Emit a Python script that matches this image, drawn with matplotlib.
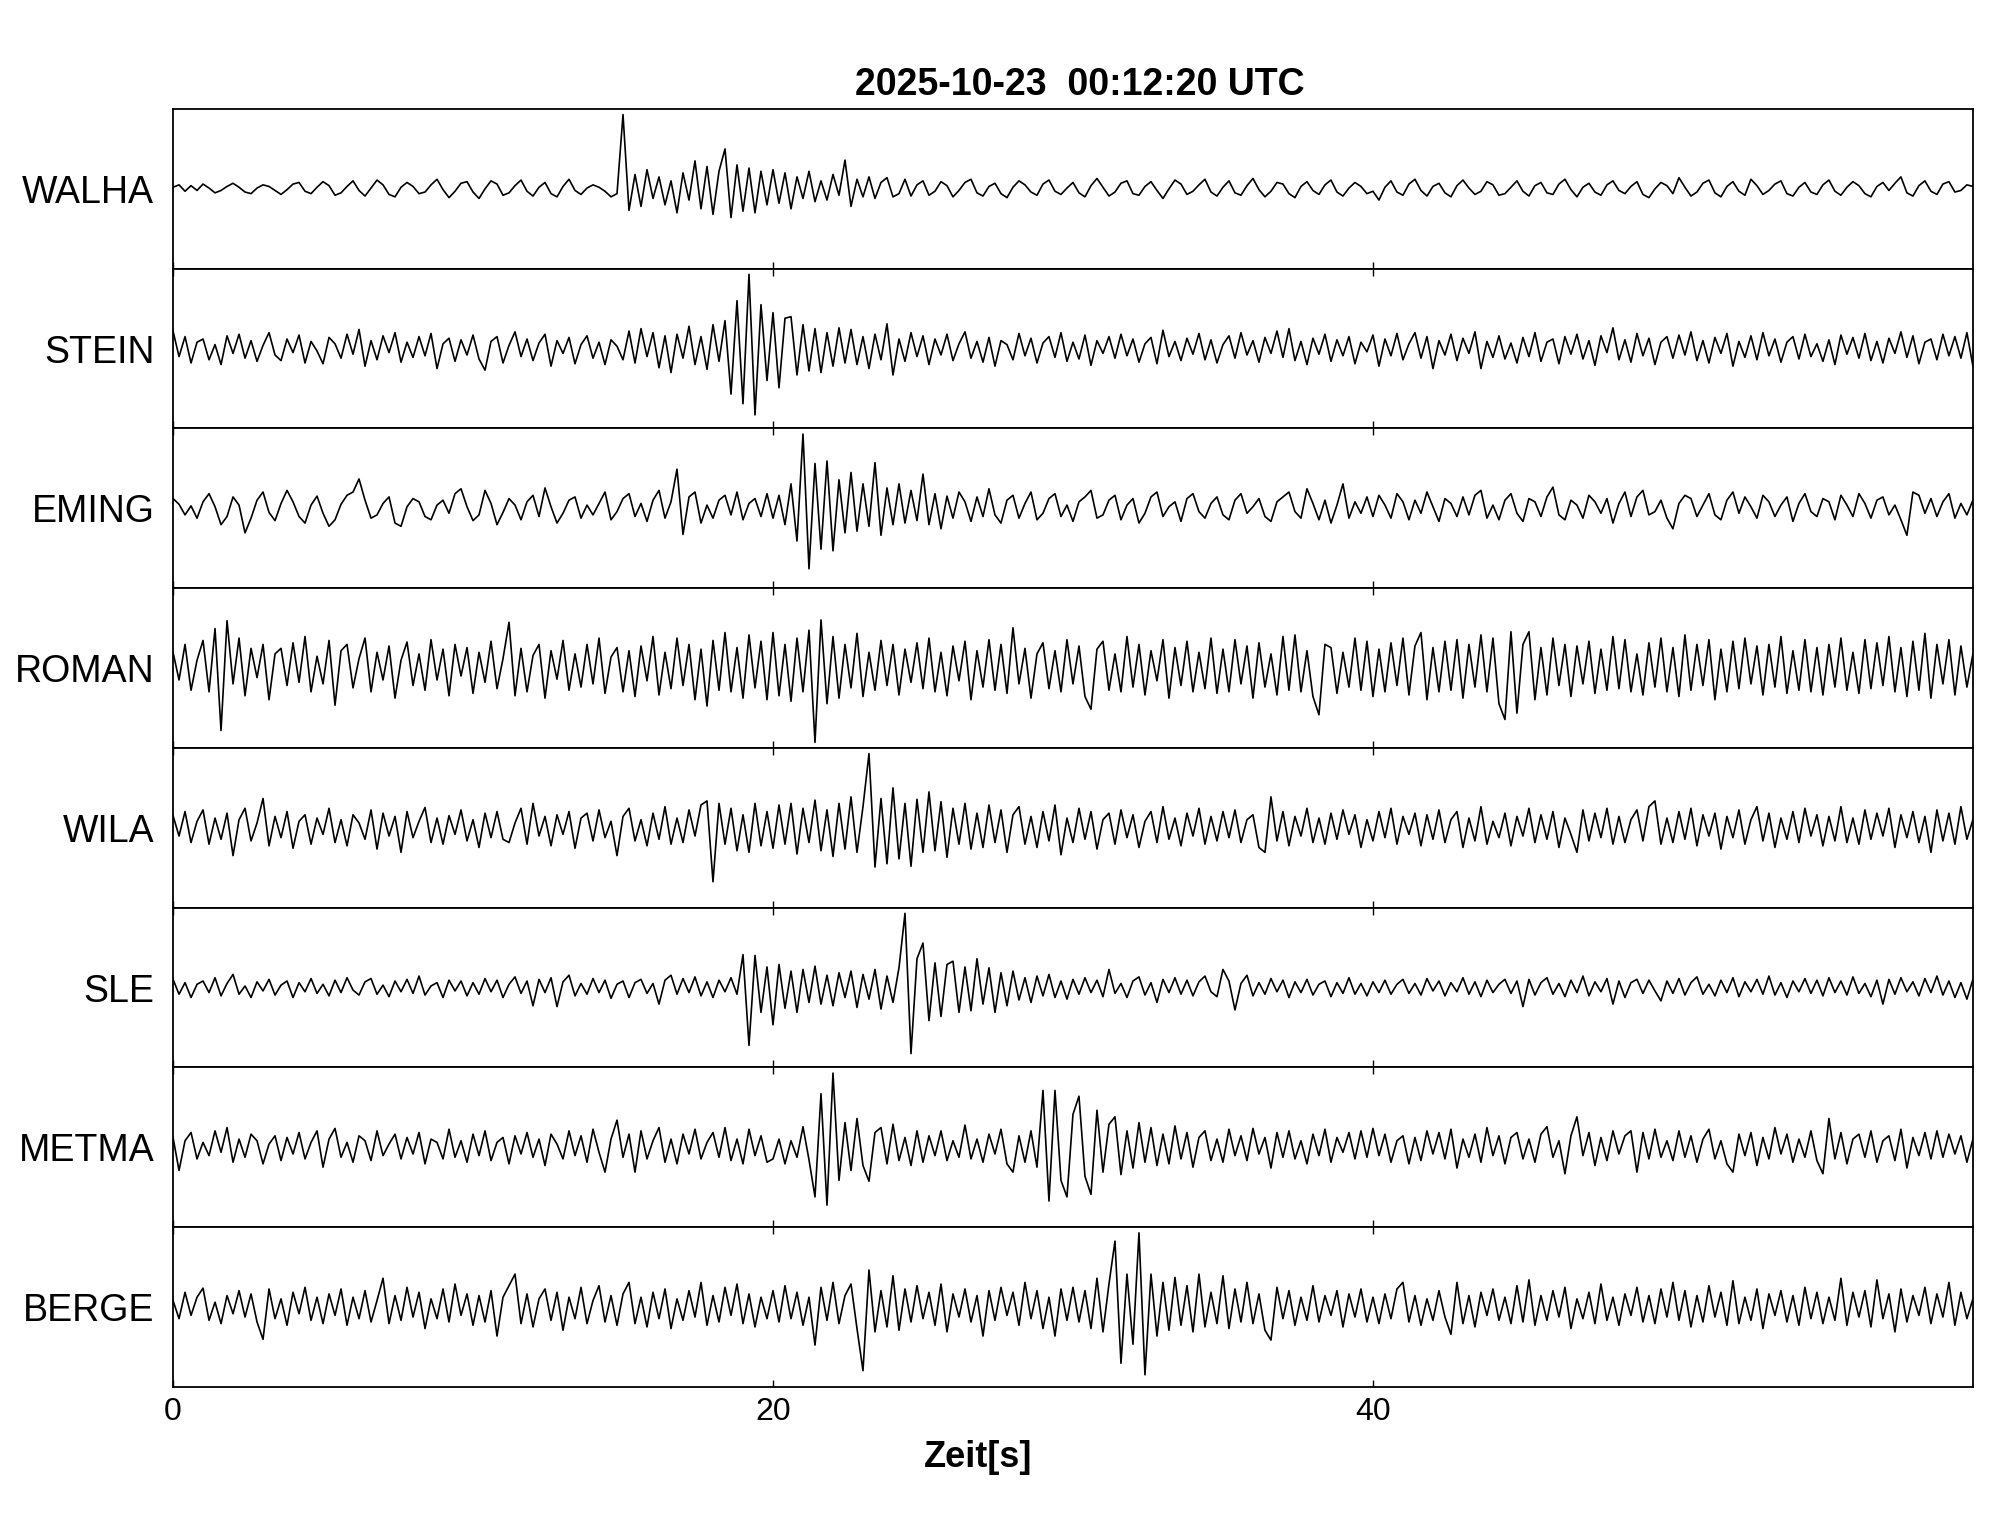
import numpy as np
import matplotlib
matplotlib.use('Agg')
import matplotlib.pyplot as plt

plt.rcParams['font.family'] = ['Liberation Sans', 'DejaVu Sans']

title = '2025-10-23  00:12:20 UTC'
stations = ['WALHA', 'STEIN', 'EMING', 'ROMAN', 'WILA', 'SLE', 'METMA', 'BERGE']
DT = 0.2  # s, sample step of the traces
xticks = [0, 20, 40]

# amplitudes (counts), one sample every 0.2 s, rows of 5 s
walha = [2, 5, -3, 4, -2, 6, 1, -5, -2, 3, 7, 2, -4, -6, 1, 5, 3, -2, -7, -1, 6, 8, -3, -6, 2,
         9, 4, -8, -5, 3, 10, -2, -9, 1, 11, 5, -7, -10, 2, 8, 3, -6, -4, 5, 12, -1, -11, -3, 7, 9,
         -4, -12, 0, 10, 6, -8, -5, 4, 11, -3, -9, 2, 8, -6, -10, 3, 12, -2, -7, 1, 5, 2, -3, -10, -6,
         93, -27, 18, -22, 24, -12, 15, -20, 10, -30, 20, -14, 35, -25, 28, -32, 22, 50, -36, 30, -28, 26, -30, 22, -20,
         24, -18, 20, -25, 15, -12, 22, -16, 10, -14, 18, -8, 36, -22, 12, -10, 15, -12, 8, 14, -10, -6, 12, -9, 5,
         10, -8, -3, 9, 4, -10, -2, 8, 12, -5, -9, 3, 7, -6, -11, 2, 10, 5, -4, -8, 6, 11, -3, -7, 1,
         8, -5, -10, 4, 13, 2, -9, -4, 7, 10, -6, -8, 3, 9, -2, -12, 0, 11, 6, -7, -3, 5, 12, -4, -9,
         2, 10, -5, -8, 4, 13, -1, -10, -3, 8, 6, -6, -11, 3, 9, -2, -7, 5, 11, -4, -9, 1, 8, 3, -6,
         -3, -14, 2, 10, -4, -8, 6, 12, -2, -9, 3, 7, -5, -10, 4, 11, 1, -7, -3, 9, 5, -8, -6, 2, 10,
         -3, -9, 4, 8, -5, -7, 6, 12, -1, -10, 2, 7, -4, -8, 5, 10, -2, -6, 3, 9, -7, -11, 0, 8, 4,
         -6, 14, 2, -9, -4, 7, 11, -5, -10, 3, 9, -3, -8, 12, 4, -7, -2, 6, 10, -6, -9, 2, 8, -4, -7,
         5, 11, -3, -8, 2, 9, 4, -6, -10, 3, 8, -2, 7, 15, -5, -9, 4, 10, -3, -7, 6, 9, -4, -2, 5, 3]

stein = [22, -10, 15, -18, 8, 12, -14, 5, -20, 16, -6, 18, -12, 10, -16, 4, 20, -8, -15, 12, -5, 17, -18, 9, -3,
         -19, 14, 6, -12, 18, -7, 24, -22, 10, -14, 16, -5, 20, -17, 8, -11, 15, -9, 19, -25, 6, 13, -16, 11, -8,
         17, -13, -27, 9, 15, -18, 4, 21, -10, 12, -15, 7, 18, -22, 10, -6, 14, -19, 5, 16, -12, 8, -20, 11, 3,
         -14, 22, -18, 25, -10, 20, -24, 16, -30, 18, -12, 28, -20, 15, -26, 30, -16, 35, -57, 60, -69, 93, -83, 55, -40,
         45, -49, 38, 40, -33, 30, -28, 25, -30, 20, -22, 26, -18, 24, -20, 15, -25, 18, -14, 31, -33, 12, -16, 20, -10,
         16, -20, 12, -8, 18, -15, 6, 21, -12, 9, -17, 14, -22, 10, 5, -14, 19, -9, 13, -18, 7, 15, -11, 20, -16,
         8, -13, 17, -21, 10, -6, 15, -12, 18, -9, 12, -17, 6, 14, -19, 23, -10, 9, -15, 13, -7, 19, -14, 11, -18,
         5, 16, -12, 20, -8, 10, -17, 14, -6, 22, -11, 25, -15, 9, -20, 13, -7, 18, -16, 11, -9, 15, -19, 8, -4,
         17, -22, 12, -9, 19, -14, 6, 20, -12, 15, -25, 10, -8, 18, -15, 13, -6, 21, -25, 9, -11, 16, -13, 7, -18,
         14, -10, 20, -16, 8, 12, -19, 15, -7, 18, -13, 10, -21, 16, -5, 26, -14, 11, -17, 19, -9, 13, -20, 8, 15,
         -12, 17, -8, 21, -15, 10, -18, 14, -6, 19, -22, 9, -11, 16, -14, 20, -9, 12, -17, 8, 15, -13, 18, -10, 6,
         -16, 11, -20, 17, -7, 14, -12, 19, -15, 9, -18, 13, -6, 21, -11, 16, -19, 8, 12, -14, 18, -9, 15, -12, 20, -22]

eming = [12, 5, -8, 3, -12, 8, 18, 2, -20, -10, 14, 4, -30, -12, 10, 20, -5, -15, 6, 22, 8, -10, -18, 4, 15,
         -6, -22, -14, 5, 16, 20, 36, 10, -12, -8, 6, 14, -18, -22, 2, 12, 8, -10, -14, 4, 10, -6, 18, 24, 2,
         -15, -8, 22, 6, -20, -5, 12, 4, -14, 8, 16, -10, 25, 2, -18, -6, 10, 14, -12, 4, -8, 6, 20, -14, -4,
         12, 18, -10, 6, -16, 10, 22, -12, 8, 48, -32, 14, 20, -18, 4, -12, 10, 16, -8, 20, -14, 6, 12, -10, 18,
         -12, 16, -20, 30, -40, 91, -74, 55, -50, 58, -52, 35, -30, 44, -28, 30, -22, 56, -33, 25, -20, 30, -18, 22, -15,
         42, -20, 18, -25, 15, -12, 20, 8, -16, 14, -10, 24, -8, -18, 10, 16, -12, 6, 20, -14, -6, 12, 18, -10, 4,
         -16, 8, 14, 22, -12, -8, 10, 16, -14, 4, 12, -18, -6, 14, 20, -10, 2, 8, -16, 12, 18, -4, -12, 6, 14,
         -8, -14, 10, 18, -6, 2, 12, -10, -16, 8, 14, 20, -4, -12, 24, 6, -14, 10, -18, 4, 30, -12, 8, -6, 14,
         -10, 16, 4, -12, 18, 8, -14, 10, -6, 20, 2, -16, 12, 6, -10, 14, -8, 16, 22, -12, 4, -14, 10, 18, -6,
         -16, 12, 8, -10, 14, 26, -8, -14, 10, 4, -12, 16, 8, -6, 12, -18, 6, 20, -10, 14, 22, -8, -4, 10, -12,
         -25, 6, 16, 12, -10, 4, 18, -8, -14, 10, 20, -6, 14, 2, -12, 16, 8, -10, 4, 14, -16, 6, 18, -4, -10,
         12, 8, -14, 16, 4, -10, 18, 6, -12, 10, 14, -8, 4, -14, -33, 20, 16, -6, 12, -10, 8, 18, -12, 6, -8, 10]

roman = [20, -15, 30, -28, 10, 35, -30, 50, -79, 60, -20, 38, -35, 25, -12, 30, -40, 18, 25, -22, 32, -18, 40, -30, 15,
         -20, 35, -47, 22, 30, -25, 12, 38, -30, 20, -15, 28, -38, 10, 33, -22, 18, -28, 36, -15, 24, -35, 30, -10, 26,
         -32, 20, -18, 34, -26, 12, 58, -35, 25, -30, 16, 30, -38, 22, -14, 35, -28, 18, -24, 30, -20, 38, -32, 14, 26,
         -30, 22, -36, 28, -16, 40, -34, 20, -26, 38, -22, 30, -40, 24, -48, 35, -28, 45, -30, 26, -38, 42, -25, 34, -40,
         45, -35, 30, -42, 38, -30, 48, -94, 61, -45, 40, -38, 30, -25, 44, -36, 20, -28, 35, -22, 30, -34, 24, -18, 32,
         -26, 38, -30, 20, -35, 28, -16, 34, -40, 22, -24, 36, -28, 30, -32, 51, -20, 25, -38, 18, 32, -26, 22, -30, 36,
         -20, 28, -36, -52, 24, 34, -28, 18, -30, 40, -24, 30, -34, 22, -16, 36, -38, 26, -22, 34, -30, 20, -26, 38, -32,
         24, -30, 36, -20, 28, -38, 32, -24, 18, -34, 40, -28, 42, -30, 22, -36, -59, 30, 26, -32, 20, -24, 38, -28, 34,
         -36, 24, -30, 32, -22, 38, -34, 28, 45, -40, 26, -30, 34, -28, 36, -38, 30, -24, 42, -30, 38, -45, -65, 46, -57,
         30, 46, -40, 26, -34, 38, -22, 30, -36, 28, -20, 34, -32, 24, -28, 40, -26, 36, -30, 18, -34, 32, -24, 38, -30,
         26, -36, 42, -28, 30, -22, 36, -40, 24, -30, 34, -26, 38, -20, 28, -34, 30, -24, 40, -32, 22, -28, 36, -30, 26,
         -34, 30, -24, 38, -28, 20, -32, 36, -26, 32, -22, 40, -30, 26, -36, 34, -28, 44, -38, 30, -20, 36, -34, 28, -24, 18]

wila = [15, -10, 20, -18, 8, 22, -20, 12, -14, 18, -34, 10, 24, -16, 6, 36, -22, 14, -12, 20, -25, 8, 16, -20, 12,
        -8, 24, -18, 10, -22, 16, 6, -14, 22, -26, 18, -10, 14, -30, 20, -12, 8, 25, -18, 12, -20, 15, -8, 22, -16,
        10, -24, 18, -12, 20, -14, -18, 6, 24, -20, 30, -10, 14, -22, 16, -8, 20, -25, 12, 18, -16, 22, -12, 8, -34,
        14, 24, -16, 10, -22, 18, -14, 26, -20, 12, -18, 22, -10, 28, 33, -66, 30, -20, 24, -28, 16, -30, 30, -22, 20,
        -25, 28, -20, 30, -32, 24, -18, 34, -28, 22, -35, 30, -26, 38, -30, 26, 91, -48, 36, -44, 49, -38, 30, -47, 35,
        -30, 44, -28, 32, -36, 24, -20, 30, -26, 18, -24, 28, -18, 22, -30, 16, 26, -20, 14, -24, 20, -16, 28, -33, 12,
        -18, 24, -14, 20, -26, 10, 18, -20, 22, -12, 16, -24, 8, 20, -18, 26, -14, 12, -22, 18, -10, 24, -20, 14, -16,
        20, -12, 22, -18, 10, 16, -24, -30, 38, -16, 20, -22, 14, -10, 24, -18, 12, -20, 18, -14, 22, -8, 16, -24, 10,
        -16, 20, -12, 24, -20, 14, -8, 18, -22, 16, -14, 22, -18, 10, 20, -24, 12, -16, 26, -20, 8, -12, 18, -22, 14,
        -10, 24, -18, 16, -14, 20, -24, 12, -8, -30, 22, -16, 18, -12, 24, -20, 14, -18, 10, 22, -16, 26, 33, -20, 12,
        -18, 20, -14, 24, -22, 16, -10, 18, -26, 14, -12, 22, -20, 10, 26, -16, 18, -24, 12, -14, 20, -18, 24, -10, 16,
        -22, 14, -16, 26, -18, 12, -20, 22, -14, 18, -10, 24, -24, 16, -12, 20, -18, 14, -30, 22, -16, 18, -20, 26, -14, 10]

sle = [10, -8, 6, -12, 4, 8, -6, 12, -10, 5, 16, -8, 2, -12, 7, -4, 10, -9, 3, 8, -12, 6, -5, 11, -7,
       4, -10, 9, -6, 12, -3, -9, 7, 11, -8, 3, -11, 8, -5, 10, -7, 14, -9, 2, 6, -12, 9, -4, 8, -10,
       6, -8, 11, -5, 9, -12, 4, 13, -7, 8, -22, 10, -6, 12, -23, 7, 15, -10, 5, -8, 11, -6, 9, -13, 4,
       8, -12, 6, 10, -7, 5, -20, 9, 15, -8, 11, -6, 13, -10, 7, -12, 9, -5, 12, -8, 40, -70, 39, -30, 25,
       -45, 28, -25, 20, -30, 22, -18, 26, -20, 15, -22, 18, -12, 20, -24, 16, -14, 22, -26, 14, -18, 24, 90, -80, 35,
       54, -40, 30, -35, 28, 32, -30, 25, -28, 35, -20, 24, -30, 18, -22, 20, -15, 12, -18, 14, -10, 16, -12, 8, -14,
       10, -8, 12, -6, 9, -11, 22, -7, 5, -12, 8, 13, -9, 6, -18, 10, -6, 12, -8, 9, -10, 7, 14, -5, -11,
       22, 8, -27, 5, 15, -10, 6, -8, 11, -5, 9, -12, 7, -6, 10, -9, 4, 8, -11, 6, -7, 12, -8, 5, -10,
       7, -6, 9, -8, 4, 10, -7, 5, -9, 11, -4, 8, -10, 6, -5, 12, -8, 7, -11, 9, -6, 4, 10, -7, 8,
       -23, 10, -9, 6, 12, -8, 5, -11, 9, -6, 14, -10, 7, -5, 11, -20, 8, -12, 6, 10, -7, 9, -4, -16, 8,
       -7, 11, -9, 6, 13, -8, 4, -10, 9, -6, 12, -11, 7, -5, 10, -8, 14, -9, 6, -12, 8, -5, 11, -7, 9,
       -10, 12, -6, 8, -9, 13, -7, 5, -11, 9, -20, 10, -8, 12, -5, 7, -10, 11, -6, 14, -9, 8, -12, 6, -14, 10]

metma = [12, -28, 8, 18, -14, 6, -10, 20, -6, 24, -18, 10, -12, 16, 8, -20, 4, 14, -16, 12, -8, 18, -14, 6, 20,
         -24, 10, 23, -12, 6, -18, 14, 8, -16, 20, -10, 4, 16, -14, 12, -8, 18, -20, 10, 6, -14, 22, -12, 8, -18,
         16, -10, 20, -16, 6, 12, -20, 14, -8, 18, -12, 10, -22, 16, 4, -14, 20, -10, 14, -18, 22, -6, -30, 10, 33,
         -12, 16, -30, 20, -14, 8, 24, -18, 10, -20, 16, -8, 22, -14, 6, 18, -12, 24, -16, 10, -20, 22, -10, 14, -18,
         -14, 10, -20, 8, -12, 25, -15, -60, 65, -70, 90, -40, 30, -28, 35, -22, -41, 18, 24, -20, 28, -16, 12, -22, 20,
         -18, 14, -10, 20, -16, 8, -12, 27, -14, 10, -18, 16, -8, 22, -20, -30, 14, -18, 20, -24, 69, -65, 69, -40, -60,
         40, 62, -35, -57, 45, -30, 28, 37, -33, 20, -25, 30, -18, 24, -22, 16, -20, 26, -14, 18, -24, 12, 20, -16, 10,
         -18, 22, -10, 14, -16, 23, -8, 12, -25, 18, -12, 20, -14, 8, -20, 16, -10, 22, -18, 12, -6, 18, -14, 20, -12,
         23, -10, 16, -18, 8, 14, -20, 12, -16, 20, -8, 18, -14, 22, -25, 10, -12, 16, -18, 24, -10, 14, -20, 12, 18,
         -14, 10, -18, 16, 25, -12, 8, -32, 14, 37, -10, 18, -22, 12, -16, 20, -8, 14, 20, -30, 18, -14, 22, -12, 8,
         -16, 20, -12, 14, -18, 10, 22, -14, 8, -20, -30, 16, -10, 18, -22, 12, -14, 24, -8, 16, -18, 10, -12, 20, -16,
         -32, 35, -14, 18, -20, 10, 16, -12, 20, -18, 8, 14, -16, 22, -25, 12, -10, 18, -14, 20, -12, 16, -8, 14, -18, 10]

berge = [8, -14, 18, -10, 12, 23, -16, 6, -20, 14, -8, 20, -12, 16, -18, -39, 22, -14, 10, -22, 18, -8, 24, -16, 12,
         -20, 16, -10, 22, -22, 12, -14, 20, -18, 8, 35, -20, 14, -16, 24, -12, 18, -26, 10, -14, 22, -18, 28, -10, 16,
         -22, 14, -18, 20, -35, 12, 26, 40, -20, 16, -24, 10, 22, -16, 18, -28, 12, -14, 24, -20, 8, 26, -18, 14, -22,
         16, 30, -20, 12, -24, 18, -14, 22, -26, 10, -16, 20, -12, 30, -22, 14, -18, 24, -10, 28, -20, 16, -24, 12, -14,
         20, -18, 26, -14, 18, -22, 12, -46, 24, -16, 30, -20, 14, 28, -26, -77, 45, -30, 20, -24, 38, -28, 22, -18, 26,
         -14, 18, -22, 28, -30, 16, -12, 22, -18, 14, -35, 20, -16, 24, -10, 18, -22, 30, -14, 20, -26, 12, -35, 22, -16,
         24, -18, 20, -26, 35, -30, 28, 80, -68, 40, -45, 90, -82, 40, -35, 30, -28, 36, -22, 26, -30, 40, -24, 18, -20,
         38, -26, 22, -18, 30, -20, 16, -28, -40, 24, -14, 20, -22, 12, -16, 26, -18, 14, -10, 20, -24, 16, -12, 22, -18,
         12, -20, 16, -14, 22, 30, -18, 14, -22, 10, -16, 20, -12, -33, 30, -20, 14, -24, 18, -10, 22, -16, 12, -20, 26,
         -18, 33, -22, 14, -16, 20, -12, 24, -26, 10, -14, 18, -20, 28, -16, 12, -22, 16, -10, 24, -18, 14, -20, 22, -12,
         30, -16, 20, -24, 14, -18, 26, -12, 18, -22, 32, -20, 12, -16, 22, -26, 16, -10, 20, -18, 14, -22, 24, -14, 18,
         -20, 12, -16, 35, -22, 18, -12, 20, -24, 33, -14, 16, -30, 22, -18, 14, -10, 24, -20, 16, -12, 30, -22, 18, -14, 10]

traces = [walha, stein, eming, roman, wila, sle, metma, berge]

fig, axes = plt.subplots(len(stations), 1, sharex=True, figsize=(20.05, 15.22), dpi=100)
fig.subplots_adjust(left=0.0863, right=0.9840, top=0.9284, bottom=0.0887, hspace=0)

for k, (ax, name, tr) in enumerate(zip(axes, stations, traces)):
    tr = np.asarray(tr, dtype=float)
    t = np.arange(len(tr)) * DT
    ax.plot(t, tr / np.abs(tr).max() * 0.93, color='black', lw=1.2)
    ax.set_xlim(0, 60)
    ax.set_ylim(-1, 1)
    ax.set_yticks([])
    ax.set_xticks(xticks)
    ax.tick_params(axis='x', direction='in', length=5, width=1.0,
                   top=(k > 0), bottom=True, labelsize=23, pad=7)
    for sp in ax.spines.values():
        sp.set_linewidth(1.3)
    ax.text(-0.0104, 0.475, name, transform=ax.transAxes, ha='right', va='center', fontsize=27)

ttl = axes[0].set_title(title, fontsize=27, fontweight='bold', pad=10)
ttl.set_x(0.504)
axes[-1].set_xlabel('Zeit[s]', fontsize=26, fontweight='bold', labelpad=10)
axes[-1].xaxis.set_label_coords(0.447, -0.33)

fig.savefig('out.png', dpi=100)
